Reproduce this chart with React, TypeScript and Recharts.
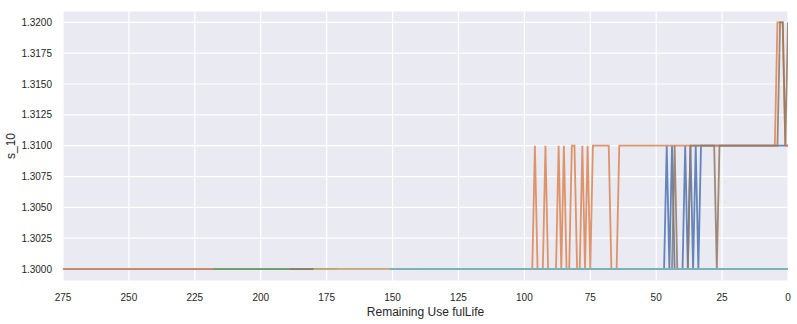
import { LineChart, Line, XAxis, YAxis, CartesianGrid } from 'recharts';

type Run = [number, number, number]; // [from RUL, to RUL, value]

const rulTicks = [275, 250, 225, 200, 175, 150, 125, 100, 75, 50, 25, 0];
const s10Ticks = [1.3, 1.3025, 1.305, 1.3075, 1.31, 1.3125, 1.315, 1.3175, 1.32];

const unitIds = [10, 20, 30, 40, 50, 60, 70, 80, 90, 100];
const unitColors = ['#4c72b0', '#dd8452', '#55a868', '#c44e52', '#8172b3', '#937860', '#da8bc3', '#8c8c8c', '#ccb974', '#64b5cd'];
const unitMaxRul = [275, 275, 218, 140, 135, 189, 171, 145, 180, 151];
const baseLevel = 1.3;

// stretches where s_10 leaves its base level of 1.3000
const u10Runs: Run[] = [[46, 46, 1.31], [44, 44, 1.31], [39, 39, 1.31], [37, 37, 1.31], [35, 35, 1.31], [33, 0, 1.31]];
const u20Runs: Run[] = [
  [96, 96, 1.31], [92, 92, 1.31], [87, 87, 1.31], [85, 85, 1.31], [82, 81, 1.31],
  [78, 78, 1.31], [76, 76, 1.31], [74, 68, 1.31], [64, 5, 1.31], [4, 2, 1.32], [1, 0, 1.31],
];
const u60Runs: Run[] = [[43, 43, 1.31], [37, 28, 1.31], [26, 4, 1.31], [3, 2, 1.32], [1, 1, 1.31], [0, 0, 1.32]];
const unitRuns: Run[][] = [u10Runs, u20Runs, [], [], [], u60Runs, [], [], [], []];

const rulValues = Array.from({ length: 276 }, (_, i) => 275 - i);

const rows = rulValues.map((rul) => {
  const row: Record<string, number> = { rul };
  unitIds.forEach((id, k) => {
    if (rul > unitMaxRul[k]) return;
    const run = unitRuns[k].find(([a, b]) => rul <= a && rul >= b);
    row[`u${id}`] = run ? run[2] : baseLevel;
  });
  return row;
});

const font = '"Liberation Sans", Arial, sans-serif';

export default function App() {
  return (
    <div style={{ position: 'absolute', left: 0, top: 0, width: 797, height: 324, background: '#fff' }}>
      <LineChart width={797} height={324} data={rows} margin={{ top: 11, right: 9, bottom: 0, left: 0 }}>
        <CartesianGrid fill="#eaeaf2" stroke="#ffffff" strokeWidth={1.2} />
        <XAxis
          dataKey="rul"
          type="number"
          domain={[0, 275]}
          reversed
          allowDataOverflow
          ticks={rulTicks}
          axisLine={false}
          tickLine={false}
          tickSize={0}
          tickMargin={13}
          height={43}
          tick={{ fill: '#262626', fontSize: 10, fontFamily: font }}
          label={{ value: 'Remaining Use fulLife', position: 'insideBottom', offset: 8, fill: '#262626', fontSize: 12, fontFamily: font }}
        />
        <YAxis
          type="number"
          domain={[1.29903, 1.32092]}
          allowDataOverflow
          ticks={s10Ticks}
          tickFormatter={(v: number) => v.toFixed(4)}
          axisLine={false}
          tickLine={false}
          tickSize={0}
          tickMargin={11}
          width={63}
          tick={{ fill: '#262626', fontSize: 10, fontFamily: font }}
          label={{ value: 's_10', angle: -90, position: 'insideLeft', offset: 11, fill: '#262626', fontSize: 12, fontFamily: font, style: { textAnchor: 'middle' } }}
        />
        {unitIds.map((id, k) => (
          <Line
            key={id}
            dataKey={`u${id}`}
            type="linear"
            stroke={unitColors[k]}
            strokeWidth={1.8}
            strokeOpacity={0.85}
            dot={false}
            activeDot={false}
            isAnimationActive={false}
          />
        ))}
      </LineChart>
    </div>
  );
}
